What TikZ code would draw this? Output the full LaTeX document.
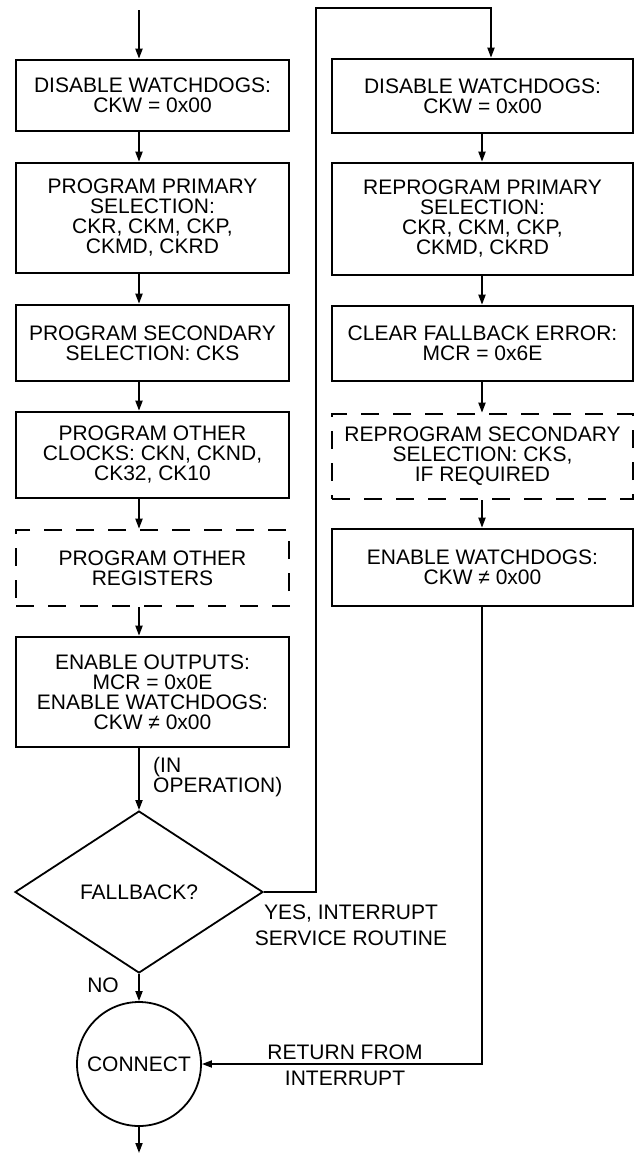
\documentclass[tikz,border=0pt]{standalone}
\usepackage{fontspec}
\setmainfont{Liberation Sans}
\usetikzlibrary{arrows.meta,shapes.geometric}
\newcommand\myfs{\fontsize{21}{20}\selectfont}
\newcommand\mylfs{\fontsize{21}{26}\selectfont}
\begin{document}
\begin{tikzpicture}[x=1pt,y=-1pt,
  box/.style={draw, line width=2.6pt, align=center, inner sep=0pt, font=\myfs},
  lbox/.style={box, minimum width=273pt},
  rbox/.style={box, minimum width=301pt},
  dbox/.style={dash pattern=on 18pt off 14pt},
  arr/.style={line width=1.8pt, -{Triangle[length=10pt,width=7pt]}},
  ln/.style={line width=1.8pt},
  lbl/.style={inner sep=0pt, align=center, font=\mylfs}]
\useasboundingbox (0,0) rectangle (637,1154);
% left column
\node[lbox, minimum height=71pt] (b1) at (152.5,95.5) {DISABLE WATCHDOGS:\\CKW = 0x00};
\node[lbox, minimum height=110pt] (b2) at (152.5,218) {PROGRAM PRIMARY\\SELECTION:\\CKR, CKM, CKP,\\CKMD, CKRD};
\node[lbox, minimum height=76pt] (b3) at (152.5,343) {PROGRAM SECONDARY\\SELECTION: CKS};
\node[lbox, minimum height=86pt] (b4) at (152.5,455) {PROGRAM OTHER\\CLOCKS: CKN, CKND,\\CK32, CK10};
\node[lbox, dbox, minimum height=76pt] (b5) at (152.5,568) {PROGRAM OTHER\\REGISTERS};
\node[lbox, minimum height=110pt] (b6) at (152.5,692) {ENABLE OUTPUTS:\\MCR = 0x0E\\ENABLE WATCHDOGS:\\CKW ≠ 0x00};
\node[diamond, draw, line width=1.8pt, aspect=1.53, minimum width=248pt, minimum height=162pt, inner sep=0pt, font=\myfs] (dia) at (139,892) {FALLBACK?};
\node[circle, draw, line width=1.8pt, minimum size=124pt, inner sep=0pt, font=\myfs] (con) at (139,1064) {CONNECT};
% right column
\node[rbox, minimum height=74pt] (r1) at (482.5,96) {DISABLE WATCHDOGS:\\CKW = 0x00};
\node[rbox, minimum height=112pt] (r2) at (482.5,219) {REPROGRAM PRIMARY\\SELECTION:\\CKR, CKM, CKP,\\CKMD, CKRD};
\node[rbox, minimum height=75pt] (r3) at (482.5,343.5) {CLEAR FALLBACK ERROR:\\MCR = 0x6E};
\node[rbox, dbox, minimum height=85pt] (r4) at (482.5,456.5) {REPROGRAM SECONDARY\\SELECTION: CKS,\\IF REQUIRED};
\node[rbox, minimum height=77pt] (r5) at (482.5,567.5) {ENABLE WATCHDOGS:\\CKW ≠ 0x00};
% coordinates
\coordinate (lc) at (139,0);
\coordinate (rc) at (482,0);
\coordinate (top) at (139,10);
\coordinate (bot) at (139,1153);
\coordinate (c1) at (316,8);
\coordinate (rtop) at (491,8);
% connectors left
\draw[arr] (top) -- (b1.north -| lc);
\draw[arr] (b1.south -| lc) -- (b2.north -| lc);
\draw[arr] (b2.south -| lc) -- (b3.north -| lc);
\draw[arr] (b3.south -| lc) -- (b4.north -| lc);
\draw[arr] (b4.south -| lc) -- (b5.north -| lc);
\draw[arr] (b5.south -| lc) -- (b6.north -| lc);
\draw[arr] (b6.south -| lc) -- (dia.north);
\draw[arr] (dia.south) -- (con.north);
\draw[arr] (con.south) -- (bot);
% to right column
\draw[arr] (dia.east) -| (c1) -- (rtop) -- (r1.north -| rtop);
\draw[arr] (r1.south -| rc) -- (r2.north -| rc);
\draw[arr] (r2.south -| rc) -- (r3.north -| rc);
\draw[arr] (r3.south -| rc) -- (r4.north -| rc);
\draw[arr] (r4.south -| rc) -- (r5.north -| rc);
\draw[arr] (r5.south -| rc) |- (con.east);
% labels
\node[lbl, anchor=west, align=left, font=\myfs] (inop) at (153,777) {(IN\\OPERATION)};
\node[lbl] (yes) at (351,925) {YES, INTERRUPT\\SERVICE ROUTINE};
\node[lbl, font=\myfs] (no) at (103,985) {NO};
\node[lbl] (retl) at (345,1065.5) {RETURN FROM\\INTERRUPT};
\end{tikzpicture}
\end{document}
